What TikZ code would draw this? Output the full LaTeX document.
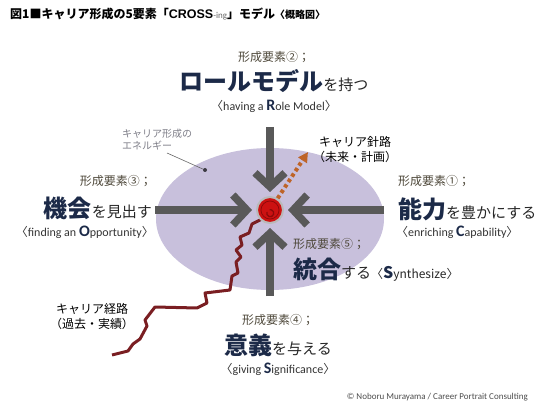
\documentclass[tikz,border=0pt]{standalone}
\usepackage{fontspec}
\setmainfont{Carlito}
\newfontfamily\jp{Noto Sans CJK JP}
\newfontfamily\arialb{Liberation Sans}
\usetikzlibrary{arrows.meta}

\definecolor{navyword}{RGB}{28,42,72}
\definecolor{labelgray}{RGB}{78,72,58}
\definecolor{bargray}{RGB}{89,89,89}
\definecolor{energy}{RGB}{200,192,220}
\definecolor{corered}{RGB}{204,18,18}
\definecolor{coredark}{RGB}{140,10,10}
\definecolor{pastred}{RGB}{122,30,34}
\definecolor{nextorange}{RGB}{190,100,40}
\definecolor{softgray}{RGB}{125,125,135}

\newcommand{\bigword}[1]{{\jp\bfseries\fontsize{24}{28}\selectfont\color{navyword}#1}}
\newcommand{\capletter}[1]{{\bfseries\fontsize{16}{18}\selectfont\color{navyword}#1}}
\newcommand{\lbr}{{\jp 〈}}
\newcommand{\rbr}{{\jp 〉}}

\tikzset{
  elemhead/.style={font=\jp\fontsize{12}{14}\selectfont, text=labelgray, inner sep=0pt},
  elemmain/.style={font=\jp\fontsize{15}{18}\selectfont, text=black!85, inner sep=0pt},
  elemsub/.style={font=\fontsize{12}{14}\selectfont, text=black!80, inner sep=0pt},
  crossbar/.style={bargray, line width=7.5pt, -{Straight Barb[length=14pt,width=30pt]}, shorten >=4pt},
  pathpast/.style={pastred, line width=3pt},
  pathnext/.style={nextorange, line width=4pt, dash pattern=on 3.5pt off 3pt, -{Triangle[length=10pt,width=10pt]}},
  core/.style={circle, fill=corered, draw=gray!55, line width=2pt, minimum size=26pt, inner sep=0pt},
  pathlabel/.style={font=\jp\fontsize{12}{15}\selectfont, align=center, inner sep=0pt},
  energydot/.style={circle, fill=black!70!energy, minimum size=4pt, inner sep=0pt},
}

\begin{document}
\begin{tikzpicture}[x=1pt, y=-1pt, line join=round, >=stealth]
\useasboundingbox (0,0) rectangle (550,412);

% title
\node[anchor=west, inner sep=0pt] (title) at (10,14)
  {{\jp\bfseries\fontsize{12}{14}\selectfont 図1■キャリア形成の5要素「}{\arialb\bfseries\fontsize{12.5}{14}\selectfont CROSS}{\color{black!60}\fontsize{9}{10}\selectfont -ing}{\jp\bfseries\fontsize{12}{14}\selectfont 」モデル}{\jp\bfseries\fontsize{10}{12}\selectfont 〈概略図〉}};

% energy field
\fill[energy] (270,219) ellipse [x radius=114, y radius=71];
\node[anchor=north west, inner sep=0pt, align=left, font=\jp\fontsize{10}{12}\selectfont, text=softgray] (energyLabel) at (122,129) {キャリア形成の\\エネルギー};
\coordinate (energyLine) at (167,153);
\node[energydot] (energyDot) at (205,170) {};
\draw[black!60, line width=0.6pt] (energyLine) -- (energyDot);

% past path
\coordinate (hub) at (270,210);
\coordinate (pastStart) at (112,355);
\draw[pathpast] (pastStart) -- (128,351) -- (133,344) -- (140,339) -- (147,326) -- (145,320) -- (155,307)
  -- (197,308) -- (207,303) -- (205,293) -- (230,290) -- (232,276) -- (238,273) -- (236,262)
  -- (241,257) -- (236,250) -- (242,245) -- (240,237) -- (249,233) -- (252,224) -- (262,219) -- (hub);

% core
\node[core] (core) at (hub) {};
\draw[coredark, line width=0.7pt] (core.center) circle (9);
\draw[coredark, line width=1.3pt] ([shift={(-3,2)}]core.center) arc[start angle=200, end angle=-100, radius=3.5];

% four arrows
\coordinate (roleEnd) at (270,127);
\coordinate (signEnd) at (270,296);
\coordinate (oppEnd) at (155,210);
\coordinate (capEnd) at (384,210);
\foreach \e in {roleEnd,signEnd,oppEnd,capEnd}{
  \draw[crossbar] (\e) -- (core);
}

% next path
\coordinate (nextTip) at (308,152);
\draw[pathnext] (core) -- (nextTip);
\node[pathlabel, anchor=west] (nextLabel) at (313,150) {キャリア針路\\（未来・計画）};
\node[pathlabel] (pastLabel) at (92,317) {キャリア経路\\（過去・実績）};

% element 2 (top)
\node[elemhead] (roleHead) at (274,57) {形成要素②；};
\node[elemmain] (roleMain) at (274,81) {\bigword{ロールモデル}を持つ};
\node[elemsub] (roleSub) at (274,106) {\lbr having a \capletter{R}ole Model\rbr};

% element 3 (left)
\node[elemhead, anchor=east] (oppHead) at (152,181) {形成要素③；};
\node[elemmain, anchor=east] (oppMain) at (152,208) {\bigword{機会}を見出す};
\node[elemsub, anchor=east] (oppSub) at (154,232) {\lbr finding an \capletter{O}pportunity\rbr};

% element 1 (right)
\node[elemhead, anchor=west] (capHead) at (398,181) {形成要素①；};
\node[elemmain, anchor=west] (capMain) at (398,209) {\bigword{能力}を豊かにする};
\node[elemsub, anchor=west] (capSub) at (396,232) {\lbr enriching \capletter{C}apability\rbr};

% element 4 (bottom)
\node[elemhead] (signHead) at (278,320) {形成要素④；};
\node[elemmain] (signMain) at (278,345) {\bigword{意義}を与える};
\node[elemsub] (signSub) at (278,369) {\lbr giving \capletter{S}ignificance\rbr};

% element 5
\node[elemhead, anchor=west] (synHead) at (293,244) {形成要素⑤；};
\node[elemmain, anchor=west] (synMain) at (293,270) {\bigword{統合}する{\fontsize{12}{14}\selectfont\lbr\textcolor{navyword}{\capletter{S}}ynthesize\rbr}};

\node[anchor=east, inner sep=0pt, font=\fontsize{9}{11}\selectfont, text=black!70] (credit) at (528,397) {© Noboru Murayama / Career Portrait Consulting};
\end{tikzpicture}
\end{document}
